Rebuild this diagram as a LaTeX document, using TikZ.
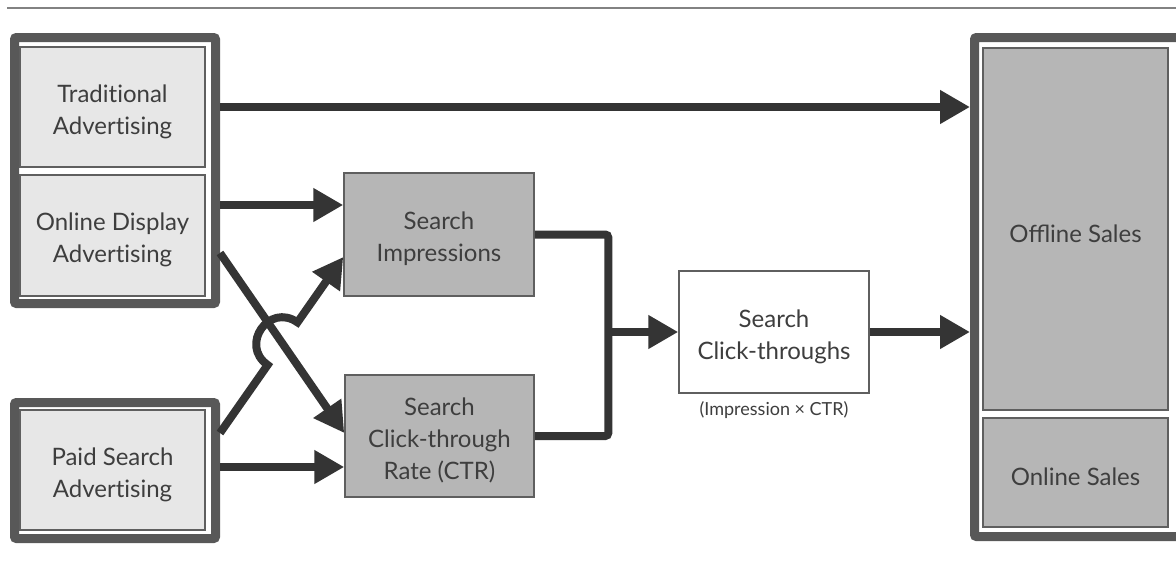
\documentclass[tikz,border=0pt]{standalone}
\usepackage{fontspec}
\setmainfont{Lato}
\newfontfamily\boxfont{Lato}[Ligatures=NoCommon]
\usetikzlibrary{arrows.meta,calc}
\definecolor{framegray}{RGB}{88,88,88}
\definecolor{edgegray}{RGB}{95,95,95}
\definecolor{arrowgray}{RGB}{52,52,52}
\definecolor{lightfill}{RGB}{231,231,231}
\definecolor{darkfill}{RGB}{182,182,182}
\definecolor{textgray}{RGB}{62,62,62}
\definecolor{rulegray}{RGB}{130,130,130}
% invisible strut that lowers box labels a little
\newcommand\padtop{\rule{0pt}{27pt}}
\begin{document}
\begin{tikzpicture}[x=1pt,y=-1pt,
  frame/.style={draw=framegray, line width=9pt, rounded corners=2pt, fill=white, inner sep=0pt},
  box/.style={draw=edgegray, line width=1.5pt, text=textgray, align=center, inner sep=0pt,
    font=\boxfont\fontsize{24}{32}\selectfont},
  lightbox/.style={box, fill=lightfill},
  darkbox/.style={box, fill=darkfill},
  plainbox/.style={box, fill=white},
  conn/.style={draw=arrowgray, line width=8pt},
  arr/.style={conn, -{Triangle[length=30pt,width=32pt]}}]
\useasboundingbox (0,0) rectangle (1176,563);
\clip (0,0) rectangle (1176,563);
\fill[white] (0,0) rectangle (1176,563);

% thin rule across the top
\draw[rulegray, line width=1.5pt] (7,8) -- (1180,8);

% outer frames
\node[frame, minimum width=201pt, minimum height=266pt] (fTop)   at (115,170.5) {};
\node[frame, minimum width=201pt, minimum height=136pt] (fPaid)  at (115,470.5) {};
\node[frame, minimum width=206pt, minimum height=499pt] (fSales) at (1077.5,287) {};

% advertising inputs
\node[lightbox, minimum width=185pt, minimum height=120pt] (trad) at (112.5,107) {\padtop Traditional\\Advertising};
\node[lightbox, minimum width=185pt, minimum height=121pt] (disp) at (112.5,235.5) {\padtop Online Display\\Advertising};
\node[lightbox, minimum width=185pt, minimum height=120pt] (paid) at (112.5,470) {\padtop Paid Search\\Advertising};

% search metrics
\node[darkbox, minimum width=190pt, minimum height=123pt] (impr) at (439,234.5) {\padtop Search\\Impressions};
\node[darkbox, minimum width=189pt, minimum height=122pt] (ctr)  at (439.5,436) {\padtop Search\\Click-through\\Rate (CTR)};
\node[plainbox, minimum width=190pt, minimum height=122pt] (clk) at (774,332) {\padtop Search\\Click-throughs};
\node[text=textgray, font=\boxfont\fontsize{18}{20}\selectfont, inner sep=0pt] (formula)
  at ([yshift=-16pt]clk.south) {(Impression × CTR)};

% sales outcomes
\node[darkbox, font=\fontsize{24}{32}\selectfont, minimum width=185pt, minimum height=362pt] (offl) at (1075.5,229) {\padtop Offline Sales};
\node[darkbox, minimum width=185pt, minimum height=109pt] (onl)  at (1075.5,472.5) {\padtop Online Sales};

% traditional advertising straight to offline sales
\draw[arr] (fTop.east |- trad.east) -- (fSales.west |- trad.east);

% online display advertising
\coordinate (dispImpr) at ([yshift=29.5pt]impr.west);
\draw[arr] (fTop.east |- dispImpr) -- (dispImpr);
\coordinate (dS) at ([yshift=-82.5pt]fTop.east);
\coordinate (dE) at ([yshift=3pt]ctr.west);
\draw[arr] (dS) -- (dE);

% paid search advertising, hopping over the display line
\coordinate (pS) at ([yshift=37.5pt]fPaid.east);
\coordinate (pE) at ([yshift=-22.5pt]impr.west);
\coordinate (X) at (intersection of pS--pE and dS--dE);
\coordinate (h1) at ($(X)!26pt!(pS)$);
\coordinate (h2) at ($(X)!26pt!(pE)$);
\coordinate (c1) at ($(h1)!34.7pt!90:(X)$);
\coordinate (c2) at ($(h2)!34.7pt!-90:(X)$);
\draw[arr] (pS) -- (h1) .. controls (c1) and (c2) .. (h2) -- (pE);
\coordinate (paidCtr) at ([yshift=-31pt]ctr.west);
\draw[arr] (fPaid.east |- paidCtr) -- (paidCtr);

% impressions and CTR combine into click-throughs
\coordinate (mTop) at ([xshift=73.5pt]impr.east);
\draw[conn, rounded corners=3pt] (impr.east) -- (mTop) |- (ctr.east);
\draw[arr] (mTop |- clk.west) -- (clk.west);

% click-throughs to sales
\draw[arr] (clk.east) -- (fSales.west |- clk.east);
\end{tikzpicture}
\end{document}
